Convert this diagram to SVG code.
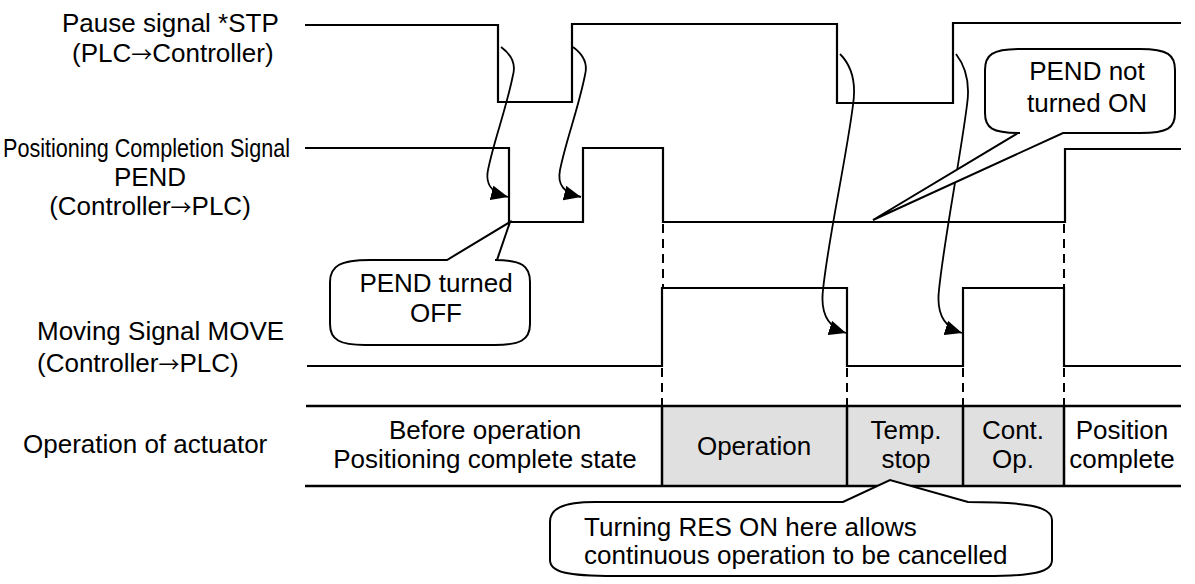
<svg xmlns="http://www.w3.org/2000/svg" width="1195" height="584" viewBox="0 0 1195 584">
<style>
text{font-family:"Liberation Sans",Arial,sans-serif;font-size:26px;fill:#000}
.ar{font-family:"Noto Sans CJK JP","DejaVu Sans",sans-serif;font-size:21px}
.sig{fill:none;stroke:#000;stroke-width:2.2}
.dash{fill:none;stroke:#000;stroke-width:2;stroke-dasharray:9,6}
.tbl{fill:none;stroke:#000;stroke-width:2.5}
.call{fill:#fff;stroke:#000;stroke-width:2}
.arr{fill:none;stroke:#000;stroke-width:1.8}
.c{text-anchor:middle}
</style>
<defs>
<marker id="ah" markerUnits="userSpaceOnUse" markerWidth="17" markerHeight="15" refX="17" refY="7.5" orient="auto">
<path d="M0,0 L17,7.5 L0,15 z" fill="#000"/>
</marker>
</defs>
<rect width="1195" height="584" fill="#fff"/>

<g id="labels">
<text x="62" y="32">Pause signal *STP</text>
<text x="72" y="62">(PLC<tspan class="ar">→</tspan>Controller)</text>
<text x="3" y="157" textLength="287" lengthAdjust="spacingAndGlyphs">Positioning Completion Signal</text>
<text x="150" y="186" class="c">PEND</text>
<text x="150" y="215" class="c">(Controller<tspan class="ar">→</tspan>PLC)</text>
<text x="37" y="340">Moving Signal MOVE</text>
<text x="37" y="372">(Controller<tspan class="ar">→</tspan>PLC)</text>
<text x="23" y="453">Operation of actuator</text>
</g>

<g id="signal-stp">
<path class="sig" d="M305,25 H498 V102 H572 V24 H837 V103 H953 V23 H1181"/>
</g>
<g id="signal-pend">
<path class="sig" d="M305,148 H509 V222 H583 V148 H663 V222 H1065 V149 H1181"/>
</g>
<g id="signal-move">
<path class="sig" d="M307,366 H662 V288 H847 V366 H963 V288 H1064 V366 H1181"/>
</g>

<g id="table">
<rect x="662" y="406" width="402" height="80" fill="#e0e0e0"/>
<path class="tbl" d="M306,406 H1181 M305,486 H1181 M662,406 V486 M847,406 V486 M963,406 V486 M1064,406 V486"/>
<text x="485" y="439" class="c">Before operation</text>
<text x="485" y="468" class="c">Positioning complete state</text>
<text x="754" y="455" class="c">Operation</text>
<text x="906" y="439" class="c">Temp.</text>
<text x="906" y="468" class="c">stop</text>
<text x="1013" y="439" class="c">Cont.</text>
<text x="1013" y="468" class="c">Op.</text>
<text x="1122" y="439" class="c">Position</text>
<text x="1122" y="468" class="c">complete</text>
</g>

<g id="connectors">
<path class="dash" d="M663,224 V288 M662,368 V406 M847,368 V406 M963,368 V406 M1064,224 V288 M1064,368 V406"/>
<path class="arr" marker-end="url(#ah)" d="M501,47 C512,55 516,64 513,75 C506,110 494,140 488,170 C485,185 492,193 508,197"/>
<path class="arr" marker-end="url(#ah)" d="M573,47 C584,55 588,64 585,75 C578,110 566,140 560,170 C557,185 564,193 581,197"/>
<path class="arr" marker-end="url(#ah)" d="M840,54 C853,67 856,85 853,105 C846,160 828,240 823,290 C820,315 830,328 846,333"/>
<path class="arr" marker-end="url(#ah)" d="M956,54 C966,67 970,85 967,105 C960,160 944,240 939,290 C936,315 946,328 962,333"/>
</g>

<g id="callout-pend-off">
<path class="call" d="M370,260 L447,260 L510,222 L497,260 L495,260 C522,260 530,266 530,282 L530,324 C530,340 520,345 495,345 L365,345 C340,345 330,340 330,324 L330,282 C330,266 340,260 370,260 Z"/>
<text x="436" y="292" class="c">PEND turned</text>
<text x="436" y="322" class="c">OFF</text>
</g>

<g id="callout-pend-not-on">
<path class="call" d="M1020,49 L1140,49 C1168,49 1175,55 1175,70 L1175,113 C1175,128 1168,133 1140,133 L1063,133 L873,220 L1018,133 L1020,133 C992,133 985,128 985,113 L985,70 C985,55 992,49 1020,49 Z"/>
<text x="1087" y="80" class="c">PEND not</text>
<text x="1087" y="112" class="c">turned ON</text>
</g>

<g id="callout-res">
<path class="call" d="M595,502 L843,502 L890,480 L968,502 C1025,502 1052,506 1052,520 L1052,560 C1052,572 1035,576 985,576 L615,576 C566,576 550,572 550,560 L550,522 C550,509 562,502 595,502 Z"/>
<text x="584" y="536">Turning RES ON here allows</text>
<text x="584" y="564">continuous operation to be cancelled</text>
</g>
</svg>
